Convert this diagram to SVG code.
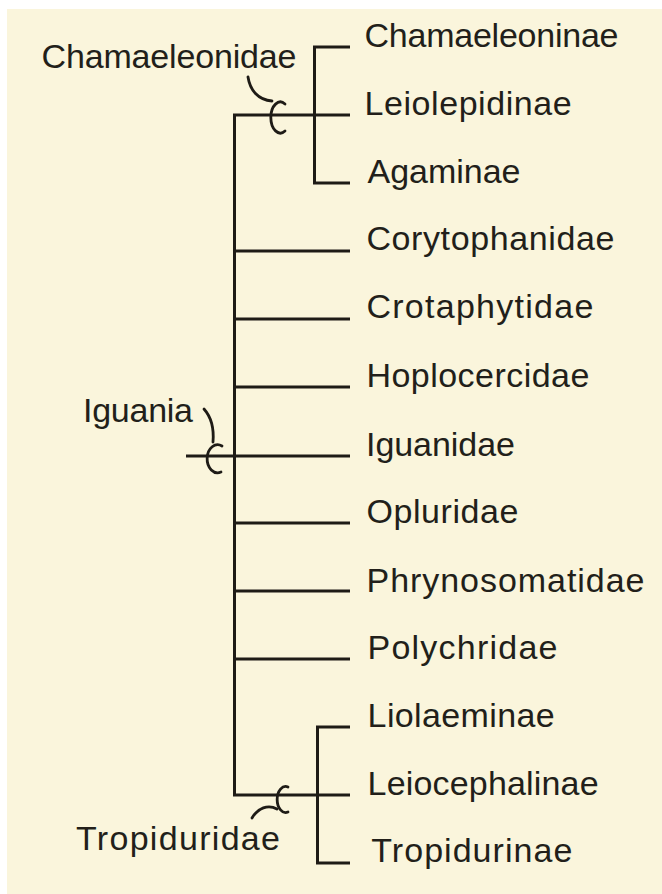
<svg xmlns="http://www.w3.org/2000/svg" width="662" height="894" viewBox="0 0 662 894">
<style>
.bg{fill:#faf5dc}
.ln{stroke:#1e1b16;stroke-width:3;fill:none;stroke-linecap:butt}
.hk{stroke:#1e1b16;stroke-width:2.8;fill:none;stroke-linecap:round}
text{font-family:"Liberation Sans",Arial,Helvetica,sans-serif;font-size:34px;fill:#221f1a}
</style>
<rect x="0" y="0" width="662" height="894" fill="#ffffff"/>
<rect class="bg" x="7" y="9" width="655" height="885"/>
<g id="connectors">
<path class="ln" d="M234.5,114 V795"/>
<path class="ln" d="M233,115 H350"/>
<path class="ln" d="M350,47 H314.5 V183 H350"/>
<path class="ln" d="M234,251 H350"/>
<path class="ln" d="M234,319 H350"/>
<path class="ln" d="M234,387 H350"/>
<path class="ln" d="M186,456 H350"/>
<path class="ln" d="M234,523 H350"/>
<path class="ln" d="M234,591 H350"/>
<path class="ln" d="M234,659 H350"/>
<path class="ln" d="M233,795 H350"/>
<path class="ln" d="M350,727 H317.5 V863 H350"/>
</g>
<g id="chamaeleonidae">
<path class="hk" d="M248,77 C250,90 258,100 272,101"/>
<path class="hk" d="M285,104 A9.5,15.5 0 1 0 285,131"/>
<text x="41.5" y="68" textLength="255" lengthAdjust="spacing">Chamaeleonidae</text>
</g>
<g id="iguania">
<path class="hk" d="M204,409 C212,418 214,430 213,442"/>
<path class="hk" d="M222,446 A10.5,14 0 1 0 221,472"/>
<text x="83" y="422" textLength="110" lengthAdjust="spacing">Iguania</text>
</g>
<g id="tropiduridae">
<path class="hk" d="M288,787 A8.5,13 0 1 0 288,812"/>
<path class="hk" d="M277,809 C268,804 258,808 252,818"/>
<text x="76" y="850" textLength="204" lengthAdjust="spacing">Tropiduridae</text>
</g>
<g id="chamaeleoninae"><text x="364.5" y="47" textLength="254" lengthAdjust="spacing">Chamaeleoninae</text></g>
<g id="leiolepidinae"><text x="364.6" y="115" textLength="207" lengthAdjust="spacing">Leiolepidinae</text></g>
<g id="agaminae"><text x="367.5" y="183" textLength="153" lengthAdjust="spacing">Agaminae</text></g>
<g id="corytophanidae"><text x="366.4" y="250" textLength="248" lengthAdjust="spacing">Corytophanidae</text></g>
<g id="crotaphytidae"><text x="366.4" y="318" textLength="227" lengthAdjust="spacing">Crotaphytidae</text></g>
<g id="hoplocercidae"><text x="366.4" y="387" textLength="223" lengthAdjust="spacing">Hoplocercidae</text></g>
<g id="iguanidae"><text x="366" y="456" textLength="149" lengthAdjust="spacing">Iguanidae</text></g>
<g id="opluridae"><text x="366.4" y="523" textLength="152" lengthAdjust="spacing">Opluridae</text></g>
<g id="phrynosomatidae"><text x="366.5" y="592" textLength="278" lengthAdjust="spacing">Phrynosomatidae</text></g>
<g id="polychridae"><text x="367.5" y="659" textLength="190" lengthAdjust="spacing">Polychridae</text></g>
<g id="liolaeminae"><text x="367.6" y="727" textLength="187" lengthAdjust="spacing">Liolaeminae</text></g>
<g id="leiocephalinae"><text x="367.6" y="795" textLength="231" lengthAdjust="spacing">Leiocephalinae</text></g>
<g id="tropidurinae"><text x="371.3" y="862" textLength="201" lengthAdjust="spacing">Tropidurinae</text></g>
</svg>
